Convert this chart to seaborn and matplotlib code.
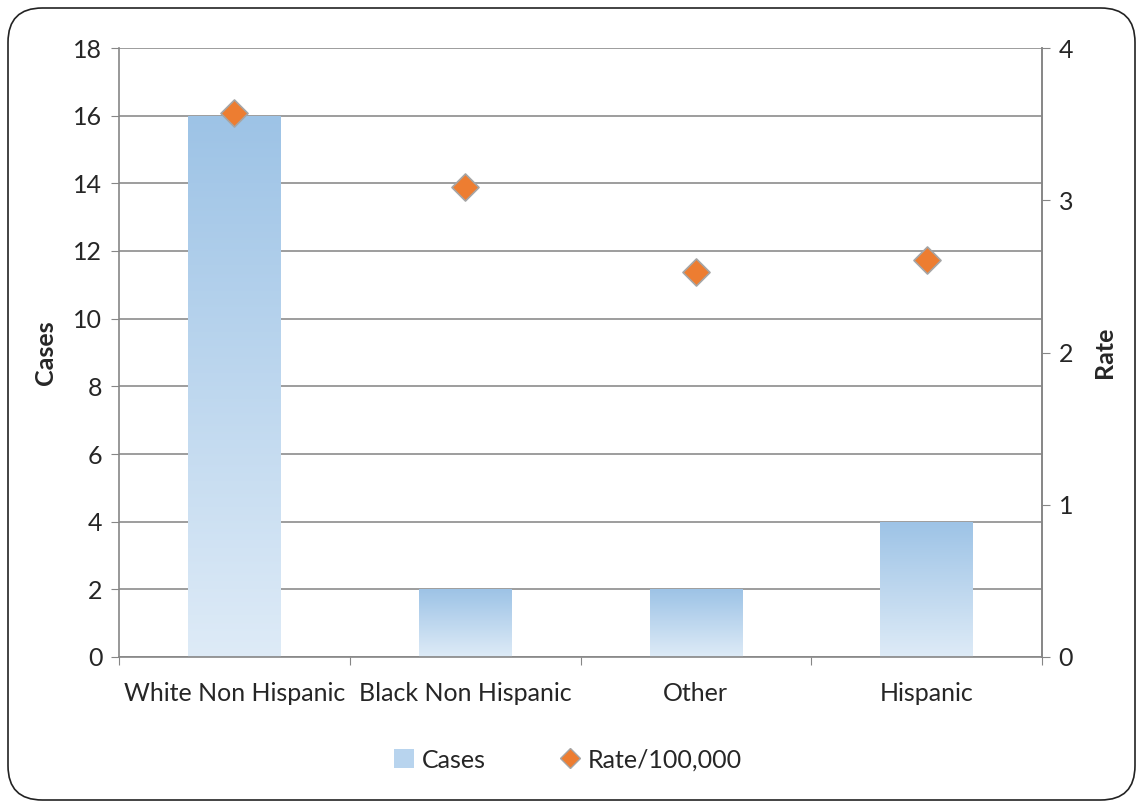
import numpy as np
import pandas as pd
import matplotlib
matplotlib.use("Agg")
import matplotlib.pyplot as plt
import seaborn as sns
from matplotlib.patches import FancyBboxPatch, Patch
from matplotlib.lines import Line2D
from matplotlib.colors import LinearSegmentedColormap

# data
groups = ["White Non Hispanic", "Black Non Hispanic", "Other", "Hispanic"]
cases = [16, 2, 2, 4]
rate = [3.57, 3.09, 2.53, 2.61]

df = pd.DataFrame({"group": groups, "cases": cases, "rate": rate})

sns.set_style("white")
plt.rcParams["font.family"] = ["Lato", "DejaVu Sans"]
FS = 18

fig = plt.figure(figsize=(11.43, 8.08), dpi=100)
ax = fig.add_axes([119 / 1143, 1 - 657 / 808, (1042 - 119) / 1143, (657 - 48) / 808])

sns.barplot(data=df, x="group", y="cases", color="#9dc3e6", width=0.4, ax=ax, zorder=2)

# gradient fill per bar, dark at the top, light at the bottom
grad_cmap = LinearSegmentedColormap.from_list("bar", ["#deebf7", "#9dc3e6"])
grad = np.linspace(0, 1, 256).reshape(-1, 1)
for p in list(ax.patches):
    x0, y0 = p.get_x(), p.get_y()
    w, h = p.get_width(), p.get_height()
    im = ax.imshow(grad, cmap=grad_cmap, aspect="auto", origin="lower",
                   extent=[x0, x0 + w, y0, y0 + h], zorder=2)
    im.set_clip_path(p)
    p.set_facecolor("none")
    p.set_edgecolor("none")

ax.set_xlim(-0.5, 3.5)
ax.set_ylim(0, 18)
ax.set_yticks(range(0, 19, 2))
ax.set_xticks(np.arange(-0.5, 3.6, 1))
ax.set_xticklabels([])
ax.set_xticks(range(4), minor=True)
ax.set_xticklabels(groups, minor=True, fontsize=FS)
ax.tick_params(axis="x", which="major", length=6, direction="out", color="#868686", bottom=True)
ax.tick_params(axis="x", which="minor", length=0, pad=18)
ax.tick_params(axis="y", length=6, direction="out", color="#868686", left=True, labelsize=FS, pad=6)
ax.yaxis.grid(True, color="#8c8c8c", linewidth=1.2, zorder=0)
ax.set_axisbelow(True)
ax.set_xlabel("")
ax.set_ylabel("Cases", fontsize=FS, fontweight="bold", labelpad=12)
ax.spines["top"].set_visible(False)
for s in ["left", "bottom", "right"]:
    ax.spines[s].set_color("#868686")
    ax.spines[s].set_linewidth(1.2)

ax2 = ax.twinx()
sns.scatterplot(x=np.arange(len(groups)), y=rate, marker="D", s=190, color="#ed7d31",
                edgecolor="#a5a5a5", linewidth=1.2, ax=ax2, zorder=5, clip_on=False)
ax2.set_ylim(0, 4)
ax2.set_yticks(range(0, 5))
ax2.tick_params(axis="y", length=6, direction="out", color="#868686", right=True, labelsize=FS, pad=6)
ax2.set_ylabel("Rate", fontsize=FS, fontweight="bold", labelpad=14)
for s in ["top", "left", "bottom"]:
    ax2.spines[s].set_visible(False)
ax2.spines["right"].set_color("#868686")
ax2.spines["right"].set_linewidth(1.2)

handles = [Patch(facecolor="#b8d4ee", edgecolor="none", label="Cases"),
           Line2D([0], [0], marker="D", color="none", markerfacecolor="#ed7d31",
                  markeredgecolor="#a5a5a5", markersize=10, label="Rate/100,000")]
fig.legend(handles=handles, loc="center", bbox_to_anchor=(568 / 1143, 1 - 760 / 808), ncol=2,
           frameon=False, fontsize=FS, handlelength=0.8, handleheight=0.8, columnspacing=3.0,
           handletextpad=0.3)

border = FancyBboxPatch((8 / 1143, 8 / 808), 1 - 16 / 1143, 1 - 16 / 808,
                        boxstyle="round,pad=0,rounding_size=0.03", transform=fig.transFigure,
                        facecolor="none", edgecolor="#222222", linewidth=1.2,
                        mutation_aspect=1143 / 808)
fig.patches.append(border)

fig.savefig("out.png", dpi=100)
